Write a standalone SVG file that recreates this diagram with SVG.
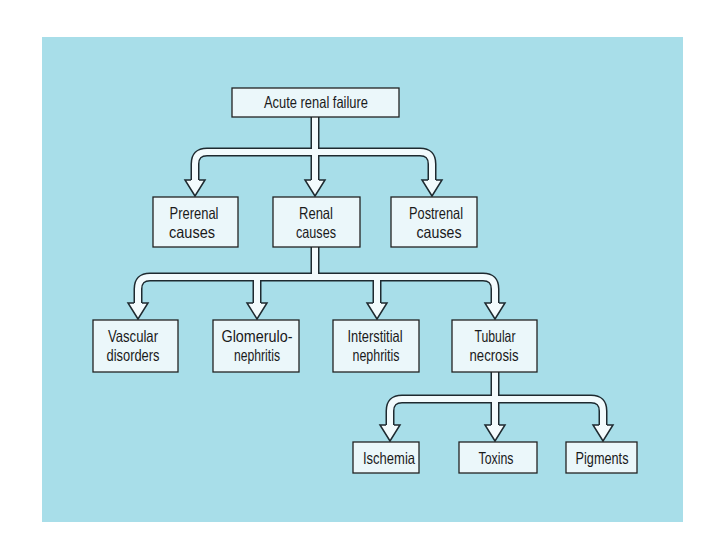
<svg xmlns="http://www.w3.org/2000/svg" width="720" height="540" viewBox="0 0 720 540">
<style>
.box{fill:#ebf7fa;stroke:#222;stroke-width:1.3}
.t{font-family:"Liberation Sans",Arial,sans-serif;font-size:16.5px;fill:#1a1a1a;text-anchor:middle}
.po{fill:none;stroke:#1e2a30;stroke-width:9;stroke-linejoin:round}
.pi{fill:none;stroke:#f3fbfd;stroke-width:6;stroke-linejoin:round}
.ah{fill:#f3fbfd;stroke:#1e2a30;stroke-width:1.5;stroke-linejoin:miter}
</style>
<rect width="720" height="540" fill="#ffffff"/>
<rect x="42" y="37" width="641" height="485" fill="#a8dee9"/>
<g id="connectors">
<path class="po" d="M315,117 V181 M195,181 V164 Q195,152 207,152 H420 Q432,152 432,164 V181"/>
<path class="po" d="M315,247 V277 M138,304 V289 Q138,277 150,277 H483 Q495,277 495,289 V304 M257,277 V304 M377,277 V304"/>
<path class="po" d="M495,372 V426 M390,426 V411 Q390,399 402,399 H591 Q603,399 603,411 V426"/>
<path class="ah" d="M191,180 H185 L195,196 L205,180 H199"/>
<path class="ah" d="M311,180 H305 L315,196 L325,180 H319"/>
<path class="ah" d="M428,180 H422 L432,196 L442,180 H436"/>
<path class="ah" d="M134,303 H128 L138,319 L148,303 H142"/>
<path class="ah" d="M253,303 H247 L257,319 L267,303 H261"/>
<path class="ah" d="M373,303 H367 L377,319 L387,303 H381"/>
<path class="ah" d="M491,303 H485 L495,319 L505,303 H499"/>
<path class="ah" d="M386,425 H380 L390,441 L400,425 H394"/>
<path class="ah" d="M491,425 H485 L495,441 L505,425 H499"/>
<path class="ah" d="M599,425 H593 L603,441 L613,425 H607"/>
<path class="pi" d="M315,116 V181.5 M195,181.5 V164 Q195,152 207,152 H420 Q432,152 432,164 V181.5"/>
<path class="pi" d="M315,246 V277 M138,304.5 V289 Q138,277 150,277 H483 Q495,277 495,289 V304.5 M257,277 V304.5 M377,277 V304.5"/>
<path class="pi" d="M495,371 V426.5 M390,426.5 V411 Q390,399 402,399 H591 Q603,399 603,411 V426.5"/>
</g>
<g id="acute"><rect class="box" x="232" y="88" width="167" height="29"/><text class="t" x="316" y="108" textLength="104" lengthAdjust="spacingAndGlyphs">Acute renal failure</text></g>
<g id="prerenal"><rect class="box" x="153" y="197" width="85" height="50"/><text class="t" x="194" y="219" textLength="49" lengthAdjust="spacingAndGlyphs">Prerenal</text><text class="t" x="192" y="238" textLength="46" lengthAdjust="spacingAndGlyphs">causes</text></g>
<g id="renal"><rect class="box" x="273" y="197" width="87" height="50"/><text class="t" x="316" y="219" textLength="34" lengthAdjust="spacingAndGlyphs">Renal</text><text class="t" x="316" y="238" textLength="40" lengthAdjust="spacingAndGlyphs">causes</text></g>
<g id="postrenal"><rect class="box" x="391" y="197" width="86" height="50"/><text class="t" x="436" y="219" textLength="54" lengthAdjust="spacingAndGlyphs">Postrenal</text><text class="t" x="439" y="238" textLength="45" lengthAdjust="spacingAndGlyphs">causes</text></g>
<g id="vascular"><rect class="box" x="93" y="320" width="85" height="52"/><text class="t" x="133" y="342" textLength="50" lengthAdjust="spacingAndGlyphs">Vascular</text><text class="t" x="133" y="361" textLength="53" lengthAdjust="spacingAndGlyphs">disorders</text></g>
<g id="glomerulo"><rect class="box" x="213" y="320" width="86" height="52"/><text class="t" x="257" y="342" textLength="71" lengthAdjust="spacingAndGlyphs">Glomerulo-</text><text class="t" x="257" y="361" textLength="46" lengthAdjust="spacingAndGlyphs">nephritis</text></g>
<g id="interstitial"><rect class="box" x="333" y="320" width="86" height="52"/><text class="t" x="375" y="342" textLength="55" lengthAdjust="spacingAndGlyphs">Interstitial</text><text class="t" x="376" y="361" textLength="47" lengthAdjust="spacingAndGlyphs">nephritis</text></g>
<g id="tubular"><rect class="box" x="452" y="320" width="85" height="52"/><text class="t" x="495" y="342" textLength="41" lengthAdjust="spacingAndGlyphs">Tubular</text><text class="t" x="494" y="361" textLength="49" lengthAdjust="spacingAndGlyphs">necrosis</text></g>
<g id="ischemia"><rect class="box" x="353" y="442" width="66" height="31"/><text class="t" x="389" y="464" textLength="52" lengthAdjust="spacingAndGlyphs">Ischemia</text></g>
<g id="toxins"><rect class="box" x="459" y="442" width="78" height="31"/><text class="t" x="496" y="464" textLength="35" lengthAdjust="spacingAndGlyphs">Toxins</text></g>
<g id="pigments"><rect class="box" x="566" y="442" width="71" height="31"/><text class="t" x="602" y="464" textLength="53" lengthAdjust="spacingAndGlyphs">Pigments</text></g>
</svg>
